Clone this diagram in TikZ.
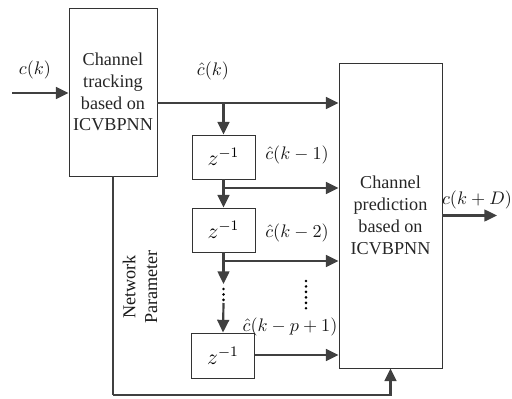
\documentclass[tikz,border=0pt]{standalone}
\usepackage{fontspec}
\setmainfont{Liberation Serif}
\usepackage{tikz}
\usetikzlibrary{arrows.meta}

\begin{document}
\begin{tikzpicture}[x=0.55pt, y=-0.55pt,
    block/.style={rectangle, draw=black!80, line width=0.5pt, inner sep=0pt},
    delay/.style={block, minimum width=34.65pt, minimum height=24.2pt, font=\large},
    flow/.style={-{Triangle[length=7pt, width=6.5pt]}, line width=1.2pt, draw=black!75},
    wire/.style={line width=1.2pt, draw=black!75},
    dotline/.style={line width=1.6pt, dash pattern=on 0pt off 3pt, line cap=round, draw=black},
    label/.style={text=black!90, inner sep=0pt}]
    \useasboundingbox (0, 0) rectangle (512, 399);
    \node (tracking) [block, minimum width=48.4pt, minimum height=92.4pt, align=center, text=black!85] at (113, 92) {Channel\\tracking\\based on\\ICVBPNN};
    \node (prediction) [block, minimum width=56.65pt, minimum height=167.75pt, align=center, text=black!85] at (390.5, 215.5) {Channel\\prediction\\based on\\ICVBPNN};
    \node (z1) [delay] at (223.5, 157) {$z^{-1}$};
    \node (z2) [delay] at (223.5, 230) {$z^{-1}$};
    \node (z3) [delay, minimum height=24.75pt] at (223, 355.5) {$z^{-1}$};
    \coordinate (in) at (12, 93);
    \coordinate (out) at (497, 215.5);
    \coordinate (b0) at (223.5, 103);
    \coordinate (b1) at (223.5, 188);
    \coordinate (b2) at (223.5, 261);
    \coordinate (d1) at (223.5, 284);
    \coordinate (d2) at (223.5, 303);
    \coordinate (v1) at (306, 281);
    \coordinate (v2) at (306, 310);
    \coordinate (np) at (113, 395);
    \node (lin) [label] at (35, 70) {$c(k)$};
    \node (l0) [label] at (213, 71) {$\hat{c}(k)$};
    \node (l1) [label] at (297, 155) {$\hat{c}(k-1)$};
    \node (l2) [label] at (297, 233) {$\hat{c}(k-2)$};
    \node (lp) [label] at (290, 327) {$\hat{c}(k-p+1)$};
    \node (lout) [label] at (477, 200) {$c(k+D)$};
    \node (netpar) [label, rotate=90, align=center] at (140, 287) {Network\\Parameter};
    \draw [flow] (in) -- (in -| tracking.west);
    \draw [flow] (tracking.east |- b0) -- (prediction.west |- b0);
    \draw [flow] (b0) -- (z1.north);
    \draw [flow] (z1.south) -- (z2.north);
    \draw [flow] (b1) -- (b1 -| prediction.west);
    \draw [flow] (z2.south) -- (d1);
    \draw [flow] (b2) -- (b2 -| prediction.west);
    \draw [dotline] (d1) ++(0, 5) -- (d2);
    \draw [flow] (d2) -- (z3.north);
    \draw [flow] (z3.east |- 0, 355) -- (prediction.west |- 0, 355);
    \draw [dotline] (v1) -- (v2);
    \draw [flow] (prediction.east |- out) -- (out);
    \draw [wire] (tracking.south) -- (np);
    \draw [flow] (np) -| (prediction.south);
  \end{tikzpicture}
\end{document}
